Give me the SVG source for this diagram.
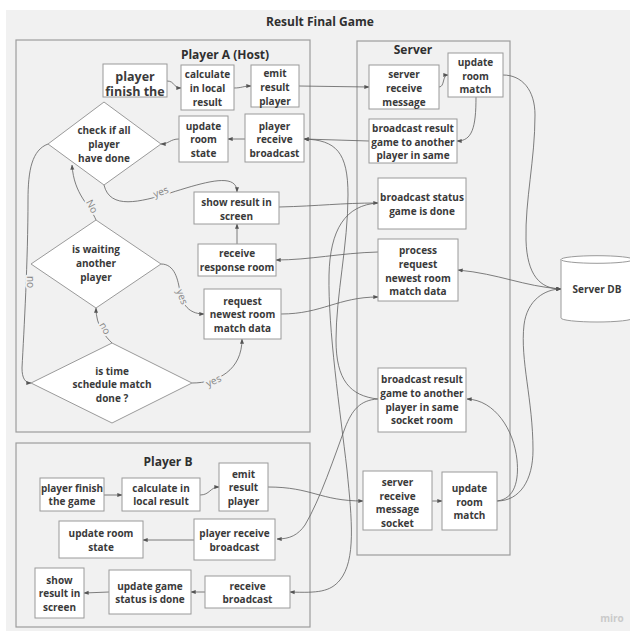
<svg xmlns="http://www.w3.org/2000/svg" width="630" height="631" viewBox="0 0 630 631">
  <defs>
    <marker id="ah" viewBox="0 0 6 6" refX="5.6" refY="3" markerWidth="5" markerHeight="5" markerUnits="userSpaceOnUse" orient="auto-start-reverse">
      <path d="M0,0.6 L6,3 L0,5.4 Z" fill="#555"/>
    </marker>
    <style>
      .board { fill: #f1f1f1; }
      .frame { fill: #f1f1f1; stroke: #9d9d9d; stroke-width: 1.2; }
      .box rect, .box polygon { fill: #ffffff; stroke: #9a9a9a; stroke-width: 1; }
      .box text { font-family: "Open Sans", "Liberation Sans", sans-serif; font-size: 10px; font-weight: bold; fill: #3a3a3a; text-anchor: middle; }
      .box text.big { font-size: 12.5px; }
      .head { font-family: "Open Sans", "Liberation Sans", sans-serif; font-size: 12px; font-weight: bold; fill: #2f2f2f; text-anchor: middle; }
      .wires path { fill: none; stroke: #5e5e5e; stroke-width: 0.8; }
      .wires path.to { marker-end: url(#ah); }
      .wires path.both { marker-start: url(#ah); marker-end: url(#ah); }
      .lbl { font-family: "Open Sans", "Liberation Sans", sans-serif; font-size: 10px; fill: #858585; text-anchor: middle; paint-order: stroke; stroke: #f1f1f1; stroke-width: 4px; stroke-linejoin: round; }
      .db path, .db ellipse { fill: #ffffff; stroke: #9a9a9a; stroke-width: 1; }
    </style>
  </defs>

  <!-- board -->
  <rect x="0" y="0" width="630" height="631" fill="#ffffff"/>
  <rect class="board" x="6" y="10" width="624" height="621"/>

  <text class="head" x="320" y="26">Result Final Game</text>

  <!-- swimlane frames -->
  <g id="lane-player-a">
    <rect class="frame" x="16" y="40" width="294" height="392"/>
    <text class="head" x="225" y="59">Player A (Host)</text>
  </g>
  <g id="lane-server">
    <rect class="frame" x="357" y="41" width="153" height="514"/>
    <text class="head" x="413" y="54">Server</text>
  </g>
  <g id="lane-player-b">
    <rect class="frame" x="16" y="443" width="294" height="184"/>
    <text class="head" x="168" y="466">Player B</text>
  </g>

  <!-- connectors -->
  <g class="wires" id="connectors">
    <!-- Player A -->
    <path class="to" d="M167,81 C175,81 173,88 181,88"/>
    <path class="to" d="M234,88 C242,88 243,86 251,86"/>
    <path class="to" d="M299,86 L369,87"/>
    <path class="to" d="M369,141 L304,139"/>
    <path class="to" d="M245,139 L228,139"/>
    <path class="to" d="M179,139 C170,139 169,144 161,144"/>
    <path class="to" d="M104,185 C110,210 140,202 170,193 C205,182 237,172 237,192"/>
    <path class="to" d="M96,220 C90,205 74,195 72,165"/>
    <path class="to" d="M48,144 C32,150 28,170 28,200 C28,260 24,330 22,368 C22,378 25,383 31,383"/>
    <path class="to" d="M112,343 C105,336 96,326 96,308"/>
    <path class="to" d="M161,264 C175,264 178,280 180,292 C183,308 192,314 204,314"/>
    <path class="to" d="M192,383 C218,383 242,370 242,339"/>
    <path class="to" d="M237,244 L237,224"/>
    <path class="to" d="M378,252 C340,253 310,260 276,260"/>
    <path class="to" d="M281,314 C322,314 338,297 378,297"/>
    <path class="to" d="M279,207 C320,206 340,203 378,203"/>

    <!-- Server -->
    <path class="to" d="M439,87 C445,87 442,75 448,75"/>
    <path class="to" d="M476,97 C476,128 472,141 457,141"/>
    <path class="to" d="M503,75 C522,75 535,90 535,115 C535,160 525,200 526,240 C527,275 540,289 561,289"/>
    <path class="both" d="M458,270 C500,274 522,286 561,289"/>
    <path class="to" d="M497,501 C520,501 533,480 533,450 C533,400 520,360 524,325 C527,300 545,289 561,289"/>
    <path class="to" d="M497,501 C515,499 519,480 517,460 C514,430 495,400 467,399"/>
    <path class="to" d="M432,501 L442,501"/>

    <!-- cross-lane broadcasts -->
    <path class="to" d="M378,399 C350,396 336,380 336,340 C336,295 348,245 348,195 C348,152 336,140 304,139"/>
    <path class="to" d="M378,203 C345,205 330,230 329,275 C328,330 340,410 347,470 C352,520 356,560 340,580 C330,592 318,593 290,592"/>
    <path class="to" d="M378,399 C360,400 352,410 345,428 C335,455 320,500 305,525 C298,535 290,539 277,539"/>

    <!-- Player B -->
    <path class="to" d="M104,495 L122,495"/>
    <path class="to" d="M200,495 C210,495 210,487 219,487"/>
    <path class="to" d="M268,487 C312,487 320,501 363,501"/>
    <path class="to" d="M194,540 L143,540"/>
    <path class="to" d="M205,592 L191,592"/>
    <path class="to" d="M109,592 L84,593"/>
  </g>

  <!-- connector labels -->
  <g id="connector-labels">
    <text class="lbl" transform="translate(162,195) rotate(-20)">yes</text>
    <text class="lbl" transform="translate(89,208) rotate(62)">No</text>
    <text class="lbl" transform="translate(27,282) rotate(90)">no</text>
    <text class="lbl" transform="translate(102,330) rotate(60)">no</text>
    <text class="lbl" transform="translate(179,298) rotate(70)">yes</text>
    <text class="lbl" transform="translate(215,384) rotate(-25)">yes</text>
  </g>

  <!-- Player A nodes -->
  <g class="box" id="pa-finish">
    <rect x="103" y="64" width="64" height="33"/>
    <text class="big" x="135" y="80.5">player</text>
    <text class="big" x="135" y="96">finish the</text>
  </g>
  <g class="box" id="pa-calculate">
    <rect x="181" y="65" width="53" height="45"/>
    <text x="207.5" y="77.5">calculate</text>
    <text x="207.5" y="91.5">in local</text>
    <text x="207.5" y="105.5">result</text>
  </g>
  <g class="box" id="pa-emit">
    <rect x="251" y="65" width="48" height="42"/>
    <text x="275" y="76.5">emit</text>
    <text x="275" y="91">result</text>
    <text x="275" y="104.5">player</text>
  </g>
  <g class="box" id="pa-update-room">
    <rect x="179" y="116" width="49" height="46"/>
    <text x="203.5" y="129.5">update</text>
    <text x="203.5" y="142.5">room</text>
    <text x="203.5" y="156.5">state</text>
  </g>
  <g class="box" id="pa-receive-broadcast">
    <rect x="245" y="114" width="59" height="48"/>
    <text x="274.5" y="129.5">player</text>
    <text x="274.5" y="142.5">receive</text>
    <text x="274.5" y="156.5">broadcast</text>
  </g>
  <g class="box" id="pa-check-all-done">
    <polygon points="48,144 104,102 161,144 104,185"/>
    <text x="104" y="133.5">check if all</text>
    <text x="104" y="147.5">player</text>
    <text x="104" y="161.5">have done</text>
  </g>
  <g class="box" id="pa-show-result">
    <rect x="194" y="192" width="85" height="32"/>
    <text x="236.5" y="205.5">show result in</text>
    <text x="236.5" y="219.5">screen</text>
  </g>
  <g class="box" id="pa-receive-response">
    <rect x="198" y="244" width="78" height="32"/>
    <text x="237" y="256.5">receive</text>
    <text x="237" y="270.5">response room</text>
  </g>
  <g class="box" id="pa-request-newest">
    <rect x="204" y="289" width="77" height="50"/>
    <text x="242.5" y="304.5">request</text>
    <text x="242.5" y="317.5">newest room</text>
    <text x="242.5" y="331.5">match data</text>
  </g>
  <g class="box" id="pa-waiting">
    <polygon points="31,264 96,220 161,264 96,308"/>
    <text x="96" y="252.5">is waiting</text>
    <text x="96" y="266.5">another</text>
    <text x="96" y="281">player</text>
  </g>
  <g class="box" id="pa-time-done">
    <polygon points="31,383 112,343 192,383 112,423"/>
    <text x="112" y="374.5">is time</text>
    <text x="112" y="387.5">schedule match</text>
    <text x="112" y="401.5">done ?</text>
  </g>

  <!-- Server nodes -->
  <g class="box" id="srv-receive">
    <rect x="369" y="65" width="70" height="44"/>
    <text x="404" y="77.5">server</text>
    <text x="404" y="91.5">receive</text>
    <text x="404" y="105.5">message</text>
  </g>
  <g class="box" id="srv-update-room">
    <rect x="448" y="53" width="55" height="44"/>
    <text x="475.5" y="65.5">update</text>
    <text x="475.5" y="79.5">room</text>
    <text x="475.5" y="92.5">match</text>
  </g>
  <g class="box" id="srv-broadcast-a">
    <rect x="369" y="119" width="88" height="44"/>
    <text x="413" y="131.5">broadcast result</text>
    <text x="413" y="145.5">game to another</text>
    <text x="413" y="158.5">player in same</text>
  </g>
  <g class="box" id="srv-broadcast-status">
    <rect x="378" y="178" width="88" height="51"/>
    <text x="422" y="200.5">broadcast status</text>
    <text x="422" y="214.5">game is done</text>
  </g>
  <g class="box" id="srv-process-request">
    <rect x="378" y="239" width="80" height="62"/>
    <text x="418" y="253.5">process</text>
    <text x="418" y="267.5">request</text>
    <text x="418" y="281.5">newest room</text>
    <text x="418" y="294.5">match data</text>
  </g>
  <g class="box" id="srv-broadcast-b">
    <rect x="378" y="368" width="88" height="64"/>
    <text x="422" y="382.5">broadcast result</text>
    <text x="422" y="396.5">game to another</text>
    <text x="422" y="410.5">player in same</text>
    <text x="422" y="423.5">socket room</text>
  </g>
  <g class="box" id="srv-receive-socket">
    <rect x="363" y="471" width="69" height="59"/>
    <text x="397.5" y="485.5">server</text>
    <text x="397.5" y="499.5">receive</text>
    <text x="397.5" y="512.5">message</text>
    <text x="397.5" y="526.5">socket</text>
  </g>
  <g class="box" id="srv-update-room-b">
    <rect x="442" y="472" width="55" height="58"/>
    <text x="469.5" y="491.5">update</text>
    <text x="469.5" y="505.5">room</text>
    <text x="469.5" y="518.5">match</text>
  </g>

  <!-- database -->
  <g class="box db" id="server-db">
    <path d="M561,259.5 L561,318 A36,4 0 0 0 633,318 L633,259.5"/>
    <ellipse cx="597" cy="259.5" rx="36" ry="3.8"/>
    <text x="597" y="292.5">Server DB</text>
  </g>

  <!-- Player B nodes -->
  <g class="box" id="pb-finish">
    <rect x="40" y="478" width="64" height="33"/>
    <text x="72" y="491.5">player finish</text>
    <text x="72" y="504.5">the game</text>
  </g>
  <g class="box" id="pb-calculate">
    <rect x="122" y="478" width="78" height="33"/>
    <text x="161" y="491.5">calculate in</text>
    <text x="161" y="504.5">local result</text>
  </g>
  <g class="box" id="pb-emit">
    <rect x="219" y="463" width="49" height="48"/>
    <text x="243.5" y="477.5">emit</text>
    <text x="243.5" y="490.5">result</text>
    <text x="243.5" y="504.5">player</text>
  </g>
  <g class="box" id="pb-update-room">
    <rect x="59" y="521" width="84" height="37"/>
    <text x="101" y="536.5">update room</text>
    <text x="101" y="550.5">state</text>
  </g>
  <g class="box" id="pb-receive-broadcast">
    <rect x="194" y="519" width="81" height="41"/>
    <text x="234.5" y="536.5">player receive</text>
    <text x="234.5" y="550.5">broadcast</text>
  </g>
  <g class="box" id="pb-show-result">
    <rect x="35" y="568" width="49" height="50"/>
    <text x="59.5" y="583.5">show</text>
    <text x="59.5" y="596.5">result in</text>
    <text x="59.5" y="610.5">screen</text>
  </g>
  <g class="box" id="pb-update-status">
    <rect x="109" y="570" width="82" height="44"/>
    <text x="150" y="589.5">update game</text>
    <text x="150" y="602.5">status is done</text>
  </g>
  <g class="box" id="pb-receive">
    <rect x="205" y="576" width="85" height="32"/>
    <text x="247.5" y="589.5">receive</text>
    <text x="247.5" y="602.5">broadcast</text>
  </g>

  <text x="612" y="622" font-family="'Open Sans', 'Liberation Sans', sans-serif" font-size="10" font-weight="bold" fill="#cacaca" text-anchor="middle">miro</text>
</svg>
